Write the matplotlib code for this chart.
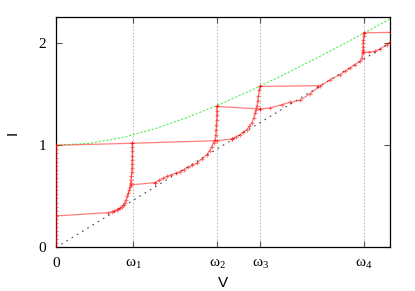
import matplotlib
matplotlib.use("Agg")
import matplotlib.pyplot as plt

plt.rcParams['mathtext.fontset'] = 'custom'
plt.rcParams['mathtext.rm'] = 'Liberation Serif'
plt.rcParams['mathtext.it'] = 'Liberation Serif:italic'

# resonance voltages
w1, w2, w3, w4 = 0.461, 0.966, 1.222, 1.844
xtick_pos = [0, w1, w2, w3, w4]
xtick_lab = ['0', r'$\mathrm{\omega}_1$', r'$\mathrm{\omega}_2$',
             r'$\mathrm{\omega}_3$', r'$\mathrm{\omega}_4$']

# green envelope
env_v = [0.0, 0.2, 0.4, 0.6, 0.8, 1.0, 1.2, 1.4, 1.6, 1.8, 2.0]
env_i = [1.0, 1.02, 1.077, 1.166, 1.281, 1.414, 1.562, 1.72, 1.887, 2.059, 2.236]

# ohmic line
ohm_v = [0.0, 2.0]
ohm_i = [0.0, 2.0]

# red I-V branches
zero_v = [0.0] * 26
zero_i = [0.0, 0.04, 0.08, 0.12, 0.16, 0.2, 0.24, 0.28, 0.32, 0.36, 0.4, 0.44, 0.48,
          0.52, 0.56, 0.6, 0.64, 0.68, 0.72, 0.76, 0.8, 0.84, 0.88, 0.92, 0.96, 1.0]

jump0_v = [0.0, 0.457, 0.962, 1.052]
jump0_i = [1.0, 1.02, 1.045, 1.061]

b1_v = [0.457, 0.457, 0.457, 0.457, 0.456, 0.455, 0.454, 0.453, 0.451, 0.449, 0.446,
        0.443, 0.439, 0.433, 0.427, 0.419, 0.411, 0.403, 0.393, 0.383, 0.373, 0.363,
        0.349, 0.334, 0.313, 0.0]
b1_i = [1.02, 0.98, 0.94, 0.9, 0.86, 0.82, 0.78, 0.74, 0.7, 0.66, 0.63,
        0.596, 0.565, 0.531, 0.5, 0.466, 0.44, 0.417, 0.4, 0.384, 0.375, 0.368,
        0.359, 0.351, 0.341, 0.309]

j1_v = [0.446, 0.593]
j1_i = [0.612, 0.635]

b2_v = [0.593, 0.618, 0.643, 0.666, 0.689, 0.716, 0.743, 0.766, 0.79, 0.816, 0.843,
        0.874, 0.902, 0.919, 0.932, 0.943, 0.952, 0.956, 0.958, 0.96, 0.961, 0.962,
        0.962, 0.962]
b2_i = [0.635, 0.657, 0.678, 0.695, 0.711, 0.727, 0.743, 0.763, 0.784, 0.804, 0.825,
        0.868, 0.907, 0.946, 0.988, 1.025, 1.054, 1.1, 1.152, 1.2, 1.25, 1.3,
        1.34, 1.38]

b3_v = [1.052, 1.077, 1.102, 1.122, 1.142, 1.158, 1.172, 1.183, 1.192, 1.197, 1.202,
        1.207, 1.211, 1.217, 1.222]
b3_i = [1.061, 1.082, 1.103, 1.128, 1.152, 1.185, 1.218, 1.267, 1.316, 1.35, 1.38,
        1.43, 1.478, 1.544, 1.576]

j2_v = [0.962, 1.222]
j2_i = [1.38, 1.355]

j3_v = [1.222, 1.571]
j3_i = [1.576, 1.583]

b4_v = [1.222, 1.281, 1.351, 1.40, 1.461, 1.521, 1.581, 1.641, 1.701, 1.73, 1.760,
        1.79, 1.82, 1.83, 1.835, 1.837, 1.838, 1.839, 1.84, 1.841, 1.842]
b4_i = [1.355, 1.365, 1.397, 1.42, 1.44, 1.505, 1.577, 1.642, 1.691, 1.724, 1.757,
        1.79, 1.822, 1.85, 1.9, 1.93, 1.96, 2.0, 2.03, 2.07, 2.1]

j4_v = [1.842, 2.0]
j4_i = [2.1, 2.105]

b5_v = [1.84, 1.875, 1.91, 1.94, 1.98, 2.0]
b5_i = [1.91, 1.912, 1.92, 1.943, 1.985, 2.008]

red_v = [zero_v, jump0_v, b1_v, j1_v, b2_v, b3_v, j2_v, j3_v, b4_v, j4_v, b5_v]
red_i = [zero_i, jump0_i, b1_i, j1_i, b2_i, b3_i, j2_i, j3_i, b4_i, j4_i, b5_i]

fig = plt.figure(figsize=(4.15, 2.91), dpi=100)
ax = fig.add_axes([0.135, 0.1495, 0.805, 0.792])

for w in xtick_pos[1:]:
    ax.axvline(w, color='#c0c0c0', lw=0.8, ls=(0, (1.5, 1.5)), zorder=1)

ax.plot(ohm_v, ohm_i, color='#444444', lw=0.8, ls=(0, (1.5, 4)), zorder=2)
ax.plot(env_v, env_i, color='#55ee55', lw=0.8, ls=(0, (2, 1.5)), zorder=2)

for v, i in zip(red_v, red_i):
    ax.plot(v, i, color='red', alpha=0.5, lw=0.9, marker='+', ms=3, mew=0.8, zorder=3)

ax.set_xlim(0, 2.0)
ax.set_ylim(0, 2.255)
ax.set_xticks(xtick_pos)
ax.set_xticklabels(xtick_lab, fontfamily='Liberation Serif', fontsize=11)
ax.set_yticks([0, 1, 2])
ax.set_yticklabels(['0', '1', '2'], fontfamily='Liberation Serif', fontsize=11)
ax.tick_params(direction='in', top=True, right=True, length=4, width=0.8,
               color='#555555')
ax.tick_params(axis='x', pad=7)
ax.tick_params(axis='y', pad=7)
for s in ax.spines.values():
    s.set_linewidth(0.9)

fig.text(0.5 * (0.135 + 0.94), 1 - 283 / 291, 'V', ha='center', va='center',
         fontsize=11, fontfamily='Liberation Sans')
fig.text(13 / 415, 1 - 133 / 291, 'I', ha='center', va='center', rotation=90,
         fontsize=11, fontfamily='Liberation Sans')

fig.savefig('out.png', dpi=100)
